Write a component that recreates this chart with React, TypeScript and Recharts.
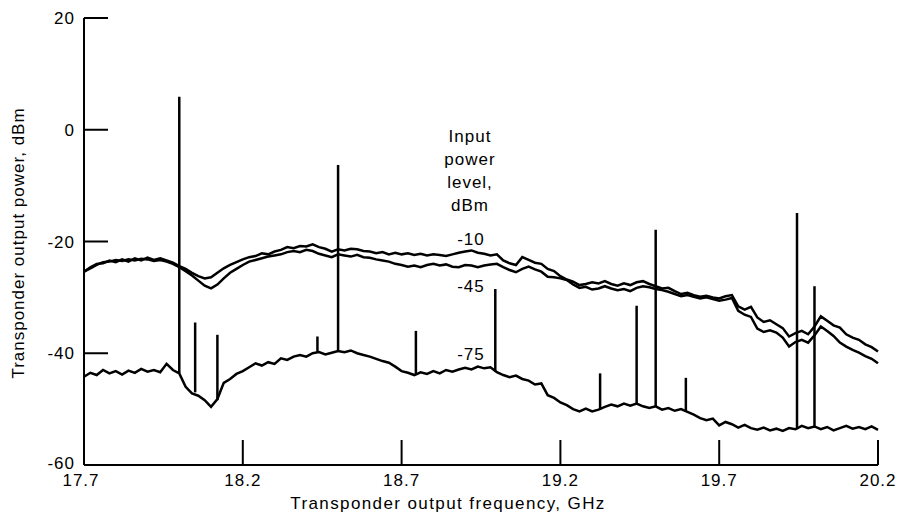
import { LineChart, Line, XAxis, YAxis, ReferenceLine } from 'recharts'

const FONT = "'Liberation Sans', Arial, sans-serif"

// sweep 17.70 .. 20.20 GHz in 0.02 GHz steps
const frequencies = Array.from({ length: 126 }, (_, i) => Math.round((17.7 + i * 0.02) * 100) / 100)

// output power, dBm, for input power -10 dBm
const level10 = [
  -25.4, -24.6, -24.0, -23.9, -23.4, -23.7, -23.2, -23.6, -23.0, -23.4,
  -22.9, -23.3, -23.0, -23.4, -23.8, -24.4, -24.9, -25.6, -26.2, -26.6,
  -26.4, -25.6, -24.8, -24.2, -23.7, -23.2, -22.8, -22.6, -22.1, -22.3,
  -21.8, -21.5, -21.0, -21.2, -20.8, -20.9, -20.5, -21.0, -21.3, -21.8,
  -21.4, -21.6, -21.3, -21.4, -21.7, -21.8, -22.1, -21.9, -22.3, -22.0,
  -22.3, -22.1, -22.4, -22.2, -22.5, -22.3, -22.4, -22.6, -22.3, -22.0,
  -21.8, -21.6, -22.0, -22.2, -22.5, -22.3, -23.4, -23.9, -24.2, -22.8,
  -23.3, -23.8, -24.0, -24.9, -25.3, -26.2, -26.8, -27.2, -27.8, -27.6,
  -27.3, -27.5, -27.1, -27.6, -27.9, -27.5, -27.8, -27.3, -27.1, -27.6,
  -28.0, -28.4, -28.3, -28.9, -29.4, -29.2, -29.6, -29.9, -29.7, -30.0,
  -30.2, -29.8, -29.6, -31.6, -32.2, -31.7, -33.6, -34.4, -34.1, -34.8,
  -35.5, -37.0, -36.4, -36.0, -36.6, -35.2, -33.4, -34.2, -35.0, -35.4,
  -36.6, -37.2, -37.6, -38.4, -38.9, -39.7,
]

// output power, dBm, for input power -45 dBm
const level45 = [
  -25.4, -24.8, -24.2, -23.7, -23.6, -23.3, -23.5, -23.2, -23.4, -23.1,
  -23.2, -23.5, -23.3, -23.6, -24.0, -24.6, -25.3, -26.1, -27.0, -27.9,
  -28.4, -27.7, -26.6, -25.6, -24.9, -24.2, -23.6, -23.3, -23.0, -22.7,
  -22.5, -22.3, -21.9, -21.7, -21.9, -21.5, -21.7, -22.2, -22.5, -22.8,
  -22.3, -22.5, -22.7, -22.4, -22.8, -22.9, -23.2, -23.4, -23.6, -24.0,
  -24.2, -24.5, -24.3, -24.6, -24.2, -24.0, -24.3, -24.1, -24.5, -24.6,
  -24.2, -24.3, -24.6, -24.3, -24.1, -24.0, -24.6, -25.1, -25.5, -24.9,
  -24.5, -25.0, -25.4, -26.3, -26.4, -26.6, -26.9, -27.7, -28.3, -28.1,
  -28.6, -28.4, -28.0, -28.4, -28.7, -28.5, -28.9, -28.3, -28.0, -28.2,
  -28.5, -28.7, -29.0, -29.4, -29.8, -29.6, -29.9, -30.2, -30.0, -30.3,
  -30.6, -30.4, -30.1, -32.4, -33.1, -33.5, -35.6, -36.2, -35.9, -36.3,
  -37.2, -38.8, -38.0, -37.6, -38.1, -36.8, -35.2, -36.0, -36.9, -38.1,
  -38.8, -39.4, -39.9, -40.5, -41.0, -41.8,
]

// output power, dBm, for input power -75 dBm
const level75 = [
  -44.2, -43.5, -43.9, -43.0, -43.6, -43.2, -43.8, -43.1, -43.5, -42.8,
  -43.3, -43.0, -43.4, -41.9, -43.0, -43.6, -46.0, -47.2, -47.6, -48.4,
  -49.6, -48.2, -45.3, -44.6, -43.7, -43.2, -42.5, -41.8, -42.2, -41.6,
  -41.9, -40.9, -41.2, -40.6, -40.3, -40.6, -40.0, -39.8, -40.2, -39.9,
  -39.6, -39.8, -39.5, -40.0, -40.3, -40.6, -41.0, -41.4, -41.7, -42.4,
  -43.2, -43.5, -43.9, -43.4, -43.7, -43.2, -43.6, -43.0, -43.3, -42.9,
  -42.6, -42.9, -42.4, -42.7, -42.5, -43.4, -43.9, -44.3, -44.0, -44.6,
  -44.9, -45.6, -45.4, -47.5, -48.0, -48.8, -49.3, -50.0, -50.4, -49.9,
  -50.4, -50.1, -49.6, -49.2, -49.5, -49.0, -49.4, -49.0, -49.5, -49.8,
  -49.5, -50.1, -49.8, -50.3, -50.0, -50.5, -51.0, -51.6, -52.0, -51.7,
  -52.9, -52.3, -52.7, -53.3, -52.8, -53.4, -53.7, -53.3, -53.8, -53.5,
  -53.9, -53.4, -53.6, -53.0, -53.4, -53.1, -53.6, -53.2, -53.8, -53.4,
  -53.0, -53.5, -53.2, -53.6, -53.1, -53.7,
]

// spurious lines: frequency, GHz, and the dBm range each one covers
const spurFreq = [18.0, 18.05, 18.12, 18.435, 18.5, 18.745, 18.995, 19.325, 19.44, 19.5, 19.595, 19.945, 20.0]
const spurTop = [5.9, -34.5, -36.7, -37.0, -6.3, -36.0, -28.5, -43.6, -31.5, -17.9, -44.4, -14.9, -28.0]
const spurBase = [-43.6, -47.0, -48.4, -39.8, -39.6, -43.9, -43.3, -50.1, -49.0, -49.5, -50.5, -53.6, -53.1]

const xTicks = [17.7, 18.2, 18.7, 19.2, 19.7, 20.2]
const yTicks = [20, 0, -20, -40, -60]
const legendTitle = ['Input', 'power', 'level,', 'dBm']
const levelLabels = ['-10', '-45', '-75']

const data = frequencies.map((f, i) => ({
  f,
  p10: level10[i],
  p45: level45[i],
  p75: level75[i],
}))

const textStyle = { fontFamily: FONT, fontSize: 17, letterSpacing: 1, fill: '#000' }

function XTick({ x, y, payload }: any) {
  const v = payload.value
  const first = v === xTicks[0]
  return (
    <g>
      {!first && <line x1={x} x2={x} y1={y} y2={y - 25} stroke="#000" strokeWidth={2} />}
      <text x={first ? x - 3 : x} y={y + 21} textAnchor="middle" style={textStyle}>
        {v.toFixed(1)}
      </text>
    </g>
  )
}

function YTick({ x, y, payload }: any) {
  const v = payload.value
  const last = v === yTicks[yTicks.length - 1]
  return (
    <g>
      {!last && <line x1={x} x2={x + 24} y1={y} y2={y} stroke="#000" strokeWidth={2} />}
      <text x={x - 9} y={last ? y + 4 : y + 6} textAnchor="end" style={textStyle}>
        {v}
      </text>
    </g>
  )
}

export default function App() {
  return (
    <div style={{ position: 'absolute', left: 0, top: 0, width: 901, height: 520, background: '#fff' }}>
      <LineChart width={901} height={520} data={data} margin={{ top: 18, right: 23, bottom: 0, left: 0 }}>
        <XAxis
          dataKey="f"
          type="number"
          domain={[17.7, 20.2]}
          ticks={xTicks}
          interval={0}
          height={55}
          tickSize={0}
          tickMargin={0}
          tickLine={false}
          axisLine={{ stroke: '#000', strokeWidth: 2 }}
          tick={<XTick />}
        />
        <YAxis
          type="number"
          domain={[-60, 20]}
          ticks={yTicks}
          interval={0}
          width={84}
          tickSize={0}
          tickMargin={0}
          tickLine={false}
          axisLine={{ stroke: '#000', strokeWidth: 2 }}
          tick={<YTick />}
        />
        {spurFreq.map((f, i) => (
          <ReferenceLine
            key={`spur-${i}`}
            segment={[{ x: f, y: spurBase[i] }, { x: f, y: spurTop[i] }]}
            stroke="#000"
            strokeWidth={2.5}
          />
        ))}
        <Line dataKey="p10" type="linear" stroke="#000" strokeWidth={2.5} dot={false} isAnimationActive={false} />
        <Line dataKey="p45" type="linear" stroke="#000" strokeWidth={2.5} dot={false} isAnimationActive={false} />
        <Line dataKey="p75" type="linear" stroke="#000" strokeWidth={2.5} dot={false} isAnimationActive={false} />
      </LineChart>

      <svg width={901} height={520} style={{ position: 'absolute', left: 0, top: 0, pointerEvents: 'none' }}>
        <text x={18} y={243} dy="0.35em" textAnchor="middle" transform="rotate(-90 18 243)" style={textStyle}>
          Transponder output power, dBm
        </text>
        <text x={448} y={509} textAnchor="middle" style={{ ...textStyle, letterSpacing: 1.4 }}>
          Transponder output frequency, GHz
        </text>
        {legendTitle.map((t, i) => (
          <text key={t} x={470} y={142 + i * 23} textAnchor="middle" style={textStyle}>
            {t}
          </text>
        ))}
        {levelLabels.map((t, i) => (
          <text key={t} x={471} y={[245, 292, 360][i]} textAnchor="middle" style={textStyle}>
            {t}
          </text>
        ))}
      </svg>
    </div>
  )
}
